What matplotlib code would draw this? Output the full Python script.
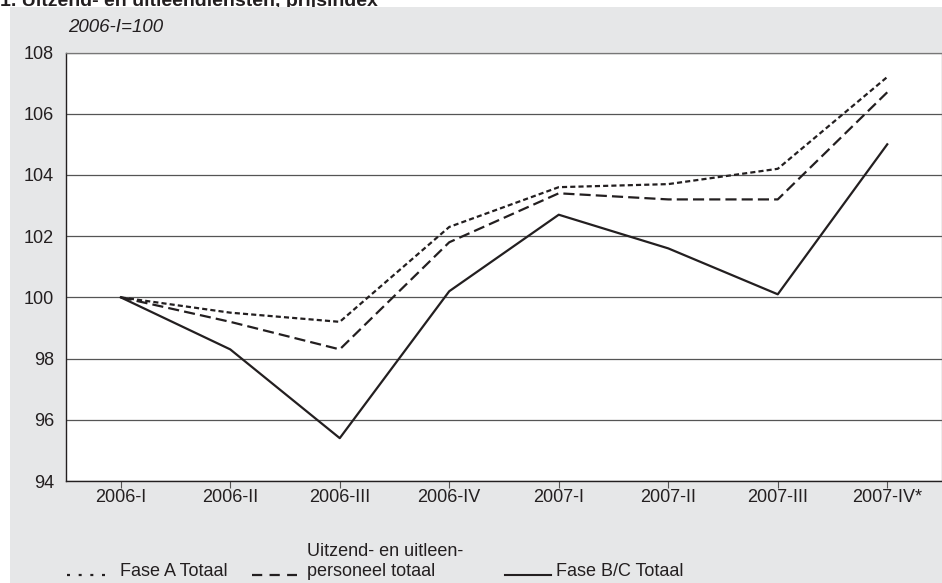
import matplotlib.pyplot as plt
import matplotlib.patches as mpatches
from matplotlib.lines import Line2D

plt.rcParams['font.family'] = ['Liberation Sans', 'DejaVu Sans']

# ------------------------------------------------------------
# data
# ------------------------------------------------------------
quarters = ['2006-I', '2006-II', '2006-III', '2006-IV',
            '2007-I', '2007-II', '2007-III', '2007-IV*']
fase_a = [100.0, 99.5, 99.2, 102.3, 103.6, 103.7, 104.2, 107.2]
uitzend = [100.0, 99.2, 98.3, 101.8, 103.4, 103.2, 103.2, 106.7]
fase_bc = [100.0, 98.3, 95.4, 100.2, 102.7, 101.6, 100.1, 105.0]
y_ticks = [94, 96, 98, 100, 102, 104, 106, 108]

W, H = 942, 583
grey = '#e6e7e8'
ink = '#231f20'

fig = plt.figure(figsize=(W / 100, H / 100), dpi=100)
fig.patch.set_facecolor('white')

# title, mostly cut off at the top
fig.text(0.0, 1 - 5.5 / H, '1. Uitzend- en uitleendiensten, prijsindex',
         fontsize=14, fontweight='bold', color=ink, va='baseline', ha='left',
         zorder=-20)

# grey panel
fig.patches.append(mpatches.Rectangle((10 / W, 0), 1 - 10 / W, 1 - 7 / H,
                                      transform=fig.transFigure,
                                      facecolor=grey, edgecolor='none', zorder=-10))

ax = fig.add_axes([66 / W, (H - 481) / H, (942 - 66) / W, (481 - 52.5) / H])
ax.set_facecolor('white')

ax.plot(range(len(quarters)), fase_a, color=ink, lw=1.6, dashes=(2.3, 1.4))
ax.plot(range(len(quarters)), uitzend, color=ink, lw=1.6, dashes=(5.0, 2.3))
ax.plot(range(len(quarters)), fase_bc, color=ink, lw=1.6)

ax.set_xlim(-0.5, len(quarters) - 0.5)
ax.set_ylim(94, 108)
ax.set_yticks(y_ticks)
ax.set_xticks(range(len(quarters)))
ax.set_xticklabels(quarters)
ax.yaxis.grid(True, color='#555555', lw=0.9)
ax.set_axisbelow(True)
ax.tick_params(axis='x', length=5, width=0.8, color='#555555',
               labelsize=13, labelcolor=ink, pad=1)
ax.tick_params(axis='y', length=0, labelsize=13, labelcolor=ink, pad=8.6)
for side in ['top', 'right']:
    ax.spines[side].set_color('#777777')
    ax.spines[side].set_linewidth(0.9)
for side in ['left', 'bottom']:
    ax.spines[side].set_color(ink)
    ax.spines[side].set_linewidth(1.0)

fig.text(68 / W, 1 - 27 / H, '2006-I=100', fontsize=13.5, style='italic',
         color=ink, va='center', ha='left')

# ------------------------------------------------------------
# legend below the chart, laid out by hand in pixel space
# ------------------------------------------------------------
leg = fig.add_axes([0, 0, 1, 1], facecolor='none')
leg.set_xlim(0, W)
leg.set_ylim(H, 0)
leg.axis('off')

leg.add_line(Line2D([67, 106], [574.5, 574.5], color=ink, lw=1.6, dashes=(1.35, 3.9)))
leg.text(120, 576, 'Fase A Totaal', fontsize=13, color=ink, va='baseline')

leg.add_line(Line2D([252, 297], [574.5, 574.5], color=ink, lw=1.6, dashes=(4.6, 3.3)))
leg.text(307, 556, 'Uitzend- en uitleen-', fontsize=13, color=ink, va='baseline')
leg.text(307, 576, 'personeel totaal', fontsize=13, color=ink, va='baseline')

leg.add_line(Line2D([505, 551], [574.5, 574.5], color=ink, lw=1.5))
leg.text(556, 576, 'Fase B/C Totaal', fontsize=13, color=ink, va='baseline')

fig.savefig('out.png', dpi=100)
